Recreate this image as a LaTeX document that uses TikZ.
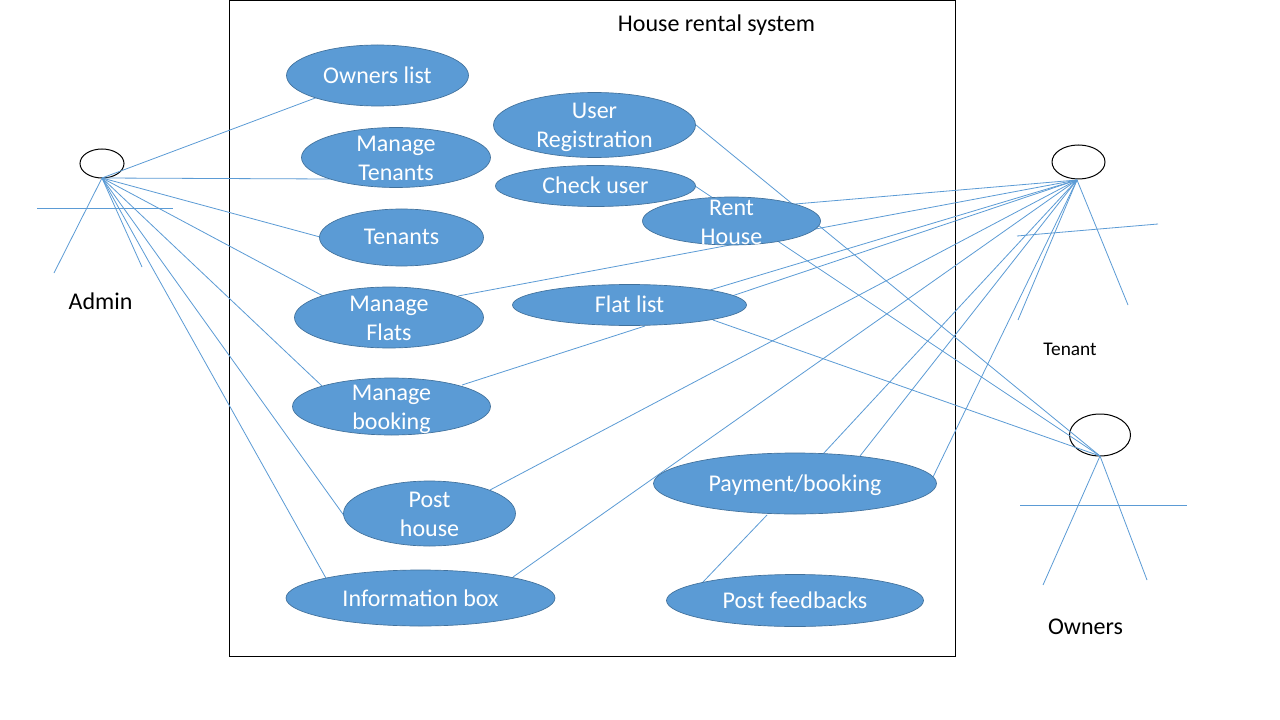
\documentclass[tikz,border=0pt]{standalone}
\usepackage{fontspec}
\setmainfont{Carlito}
\usetikzlibrary{shapes.geometric}
\definecolor{ufill}{HTML}{5B9BD5}
\definecolor{uline}{HTML}{41719C}
\definecolor{cline}{HTML}{5B9BD5}
\tikzset{
 x=0.75pt,y=-0.75pt,
 uc/.style={ellipse,draw=uline,fill=ufill,line width=0.5pt,inner sep=0pt},
 uctext/.style={inner sep=0pt,text=white,align=center,font=\fontsize{18}{21.75}\selectfont},
 link/.style={draw=cline,line width=0.6pt},
 head/.style={ellipse,draw=black,line width=0.75pt,inner sep=0pt},
 lbl/.style={inner sep=0pt,text=black,font=\fontsize{18}{22}\selectfont},
}
% x, y, width, height, name, text, text y
\newcommand{\uc}[7]{\node[uc,minimum width=#3*0.75pt,minimum height=#4*0.75pt] (#5) at (#1,#2) {};
 \node[uctext] (#5t) at (#1,#7) {#6};}
\begin{document}
\begin{tikzpicture}
\useasboundingbox (0,0) rectangle (1280,720);
\fill[white] (0,0) rectangle (1280,720);
\node[draw=black,line width=0.75pt,minimum width=726*0.75pt,minimum height=656*0.75pt,inner sep=0pt] (sys) at (592.5,328.5) {};
\node[lbl] (title) at (716.5,25.5) {House rental system};
% anchors
\coordinate (A) at (102,178);
\coordinate (T) at (1077,180);
\coordinate (O) at (1100,456);
\coordinate (a1) at (318,97);\coordinate (a2) at (330,179);\coordinate (a3) at (320,237);
\coordinate (a4) at (323,296);\coordinate (a5) at (322,386);\coordinate (a6) at (345,517);\coordinate (a7) at (327,580);
\coordinate (t1) at (760,207);\coordinate (t2) at (458,296);\coordinate (t3) at (700,293);\coordinate (t4) at (720,300);
\coordinate (t5) at (490,490);\coordinate (t6) at (513,577);\coordinate (t7) at (823,454);\coordinate (t8) at (860,456);\coordinate (t9) at (933,477);
\coordinate (o1) at (696,125);\coordinate (o2) at (695,186);\coordinate (o4) at (713,320);
\coordinate (m1) at (462,385);\coordinate (m2) at (645,326);
\coordinate (p1) at (767,515);\coordinate (p2) at (703,582);
% actors' heads, under the connectors
\node[head,minimum width=44*0.75pt,minimum height=29*0.75pt] (ah) at (102,163.5) {};
\node[head,minimum width=53*0.75pt,minimum height=34*0.75pt] (th) at (1078.5,162) {};
\node[head,minimum width=61*0.75pt,minimum height=42*0.75pt] (oh) at (1100,435) {};
\foreach \i in {1,...,7}{\draw[link] (A) -- (a\i);}
\foreach \i in {1,...,9}{\draw[link] (T) -- (t\i);}
\foreach \i in {1,2,4}{\draw[link] (O) -- (o\i);}
\draw[link] (m1) -- (m2);
\draw[link] (p1) -- (p2);
% actors
\coordinate (al) at (54,273);\coordinate (ar) at (142,267);\coordinate (aa1) at (37,208);\coordinate (aa2) at (173,208);
\coordinate (tl) at (1018,320);\coordinate (tr) at (1128,305);\coordinate (ta1) at (1017,236);\coordinate (ta2) at (1158,224);
\coordinate (ol) at (1043,585);\coordinate (or) at (1147,580);\coordinate (oa1) at (1020,505);\coordinate (oa2) at (1187,505);
\draw[link] (aa1) -- (aa2);
\draw[link] (A) -- (al);
\draw[link] (A) -- (ar);
\draw[link] (ta1) -- (ta2);
\draw[link] (T) -- (tl);
\draw[link] (T) -- (tr);
\draw[link] (oa1) -- (oa2);
\draw[link] (O) -- (ol);
\draw[link] (O) -- (or);
\node[lbl] (admin) at (100.5,301) {Admin};
\node[inner sep=0pt,font=\fontsize{14.5}{17}\selectfont] (tenant) at (1070,349) {Tenant};
\node[lbl] (owners) at (1085.5,627) {Owners};
% use cases
\uc{377.5}{75.5}{182}{61}{u1}{Owners list}{75.5}
\uc{396}{157.5}{189}{60}{u2}{Manage\\Tenants}{158}
\uc{594.5}{125}{202}{65}{u3}{User\\Registration}{127}
\uc{595.5}{186}{200}{41}{u4}{Check user}{185}
\uc{731.5}{221}{178}{48}{u5}{Rent\\House}{222}
\uc{401.5}{237.5}{164}{57}{u6}{Tenants}{236.5}
\uc{389}{317.5}{189}{61}{u7}{Manage\\Flats}{318.5}
\uc{629.5}{305}{234}{41}{u8}{Flat list}{304}
\uc{391.5}{406.5}{198}{57}{u9}{Manage\\booking}{409}
\uc{429.5}{513.5}{172}{65}{u10}{Post\\house}{514}
\uc{795}{483.5}{283}{61}{u11}{Payment/booking}{485}
\uc{420.5}{598}{269}{56}{u12}{Information box}{598}
\uc{795}{600.5}{257}{52}{u13}{Post feedbacks}{600}
\end{tikzpicture}
\end{document}
